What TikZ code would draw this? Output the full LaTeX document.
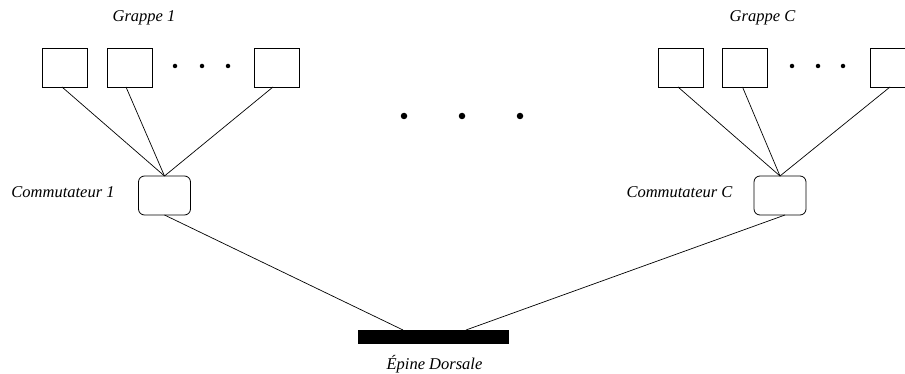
\documentclass[tikz,border=0pt]{standalone}
\usepackage{fontspec}
\setmainfont{Liberation Serif}
\begin{document}
\begin{tikzpicture}[x=1pt,y=-1pt,
  every node/.style={inner sep=0pt, outer sep=0pt},
  lbl/.style={font=\fontsize{16.5}{19}\selectfont\itshape},
  host/.style={draw, line width=0.8pt, minimum width=45pt, minimum height=39pt},
  switch/.style={draw, line width=0.8pt, rounded corners=6pt, minimum width=52pt, minimum height=39pt},
  spinebar/.style={fill=black, minimum width=151pt, minimum height=14pt},
  link/.style={line width=0.7pt},
  smalldot/.style={circle, fill=black, minimum size=4.5pt},
  bigdot/.style={circle, fill=black, minimum size=6.5pt}]
\useasboundingbox (0,0) rectangle (905,374);
\clip (0,0) rectangle (905,374);
% labels
\node[lbl] (g1) at (144,18) {Grappe 1};
\node[lbl] (gc) at (762.5,18) {Grappe C};
\node[lbl] (c1l) at (63,192) {Commutateur 1};
\node[lbl] (ccl) at (679.5,192) {Commutateur C};
\node[lbl] (spl) at (434.5,364) {Épine Dorsale};
% group 1
\node[host] (a1) at (64.5,67.5) {};
\node[host] (a2) at (129.5,67.5) {};
\node[host] (a3) at (276.5,67.5) {};
\node[smalldot] (ad1) at (175,66) {};
\node[smalldot] (ad2) at (202,66) {};
\node[smalldot] (ad3) at (228,66) {};
\node[switch] (s1) at (164.5,195.5) {};
% group C
\node[host] (b1) at (680.5,67.5) {};
\node[host] (b2) at (744.5,67.5) {};
\node[host] (b3) at (892.5,67.5) {};
\node[smalldot] (bd1) at (792,66) {};
\node[smalldot] (bd2) at (818,66) {};
\node[smalldot] (bd3) at (843,66) {};
\node[switch] (sc) at (780,195.5) {};
% middle dots
\node[bigdot] (m1) at (404,116) {};
\node[bigdot] (m2) at (462,116) {};
\node[bigdot] (m3) at (520,116) {};
% spine
\node[spinebar] (sp) at (433.5,337) {};
% links
\draw[link] ([xshift=-2.5pt]a1.south) -- (s1.north);
\draw[link] ([xshift=-3.5pt]a2.south) -- (s1.north);
\draw[link] ([xshift=-3.5pt]a3.south) -- (s1.north);
\draw[link] ([xshift=-2.5pt]b1.south) -- (sc.north);
\draw[link] ([xshift=-2pt]b2.south) -- (sc.north);
\draw[link] ([xshift=-2.5pt]b3.south) -- (sc.north);
\draw[link] (s1.south) -- ([xshift=-30.5pt]sp.north);
\draw[link] ([xshift=5pt]sc.south) -- ([xshift=32.5pt]sp.north);
\end{tikzpicture}
\end{document}
